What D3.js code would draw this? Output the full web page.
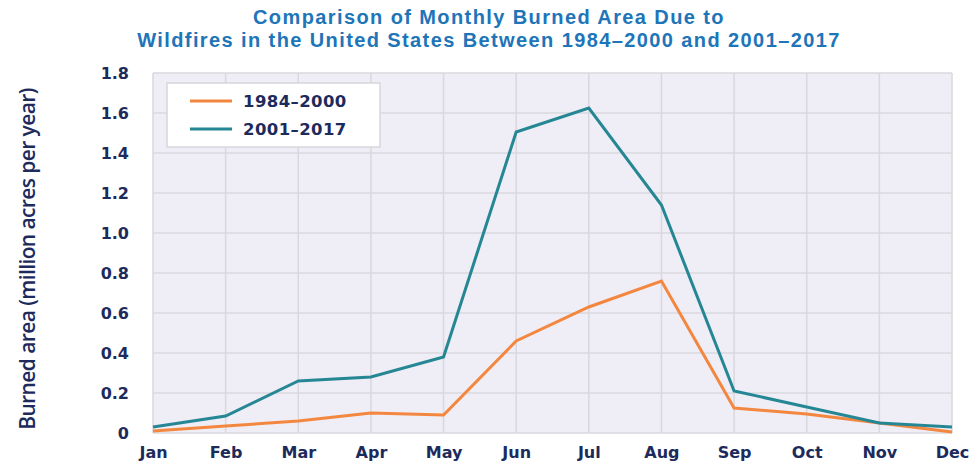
<!DOCTYPE html>
<html>
<head>
<meta charset="utf-8">
<script src="https://cdn.jsdelivr.net/npm/d3@7"></script>
<style>
  body { margin: 0; background: #fff; }
  svg { display: block; }
</style>
</head>
<body>
<svg id="chart" width="979" height="467"></svg>
<script>
'use strict';

const months = ['Jan', 'Feb', 'Mar', 'Apr', 'May', 'Jun', 'Jul', 'Aug', 'Sep', 'Oct', 'Nov', 'Dec'];
const early = [0.01, 0.035, 0.06, 0.10, 0.09, 0.46, 0.63, 0.76, 0.125, 0.095, 0.05, 0.005];
const late = [0.03, 0.085, 0.26, 0.28, 0.38, 1.505, 1.625, 1.14, 0.21, 0.13, 0.05, 0.03];
const yTicks = [0, 0.2, 0.4, 0.6, 0.8, 1.0, 1.2, 1.4, 1.6, 1.8];
const seriesNames = ['1984\u20132000', '2001\u20132017'];

const titleLines = [
  'Comparison of Monthly Burned Area Due to',
  'Wildfires in the United States Between 1984\u20132000 and 2001\u20132017'
];
const yTitle = 'Burned area (million acres per year)';

const navy = '#1d2b5c';
const orange = '#f4873f';
const teal = '#268794';
const tickFont = '"DejaVu Sans", Verdana, sans-serif';
const plot = {left: 153, right: 952, top: 73, bottom: 433};

const svg = d3.select('#chart');

const x = d3.scalePoint().domain(months).range([plot.left, plot.right]);
const y = d3.scaleLinear().domain([0, 1.8]).range([plot.bottom, plot.top]);

// plot background
svg.append('rect')
  .attr('x', plot.left)
  .attr('y', plot.top)
  .attr('width', plot.right - plot.left)
  .attr('height', plot.bottom - plot.top)
  .attr('fill', '#efedf5');

// grid
const grid = svg.append('g');
grid.selectAll('.hg')
  .data(yTicks)
  .join('line')
  .attr('x1', plot.left).attr('x2', plot.right)
  .attr('y1', d => y(d)).attr('y2', d => y(d))
  .attr('stroke', '#d9d8de').attr('stroke-width', 1.5);
grid.selectAll('.vg')
  .data(months)
  .join('line')
  .attr('x1', d => x(d)).attr('x2', d => x(d))
  .attr('y1', plot.top).attr('y2', plot.bottom)
  .attr('stroke', '#d9d8de').attr('stroke-width', 1.5);

// axes (labels only)
const yAxis = svg.append('g')
  .attr('transform', `translate(${plot.left - 21},0)`)
  .call(d3.axisLeft(y).tickValues(yTicks).tickSize(0)
    .tickFormat(d => d === 0 ? '0' : d3.format('.1f')(d)));
yAxis.select('.domain').remove();
yAxis.selectAll('text')
  .attr('fill', navy)
  .attr('font-family', tickFont)
  .attr('font-weight', 700)
  .attr('font-size', 16)
  .attr('dy', '0.36em');

const xAxis = svg.append('g')
  .attr('transform', `translate(0,${plot.bottom})`)
  .call(d3.axisBottom(x).tickSize(0));
xAxis.select('.domain').remove();
xAxis.selectAll('text')
  .attr('fill', navy)
  .attr('font-family', tickFont)
  .attr('font-weight', 700)
  .attr('font-size', 16)
  .attr('dy', '1.35em');

// lines
const line = d3.line().x((d, i) => x(months[i])).y(d => y(d));
[[early, orange], [late, teal]].forEach(([vals, col]) => {
  svg.append('path')
    .datum(vals)
    .attr('d', line)
    .attr('fill', 'none')
    .attr('stroke', col)
    .attr('stroke-width', 3)
    .attr('stroke-linejoin', 'miter');
});

// legend
const legend = svg.append('g');
legend.append('rect')
  .attr('x', 167).attr('y', 83)
  .attr('width', 213).attr('height', 64)
  .attr('fill', '#fff')
  .attr('stroke', '#d6d6dc').attr('stroke-width', 1.5);
[orange, teal].forEach((col, i) => {
  const ly = 101 + i * 28;
  legend.append('line')
    .attr('x1', 190).attr('x2', 232)
    .attr('y1', ly).attr('y2', ly)
    .attr('stroke', col).attr('stroke-width', 3);
  legend.append('text')
    .attr('x', 243).attr('y', ly)
    .attr('dy', '0.36em')
    .attr('fill', navy)
    .attr('font-family', tickFont)
    .attr('font-weight', 700)
    .attr('font-size', 16.5)
    .attr('letter-spacing', 0.4)
    .text(seriesNames[i]);
});

// title
svg.append('g').selectAll('text')
  .data(titleLines)
  .join('text')
  .attr('x', 489)
  .attr('y', (d, i) => 24 + i * 23)
  .attr('text-anchor', 'middle')
  .attr('fill', '#2075b9')
  .attr('font-family', '"Liberation Sans", Arial, sans-serif')
  .attr('font-weight', 700)
  .attr('font-size', 20)
  .attr('letter-spacing', 1.4)
  .text(d => d);

// y title
svg.append('text')
  .attr('transform', 'translate(35,259) rotate(-90)')
  .attr('text-anchor', 'middle')
  .attr('fill', navy)
  .attr('font-family', '"Open Sans", sans-serif')
  .attr('font-weight', 600)
  .attr('font-size', 21)
  .attr('letter-spacing', -0.6)
  .text(yTitle);
</script>
</body>
</html>
